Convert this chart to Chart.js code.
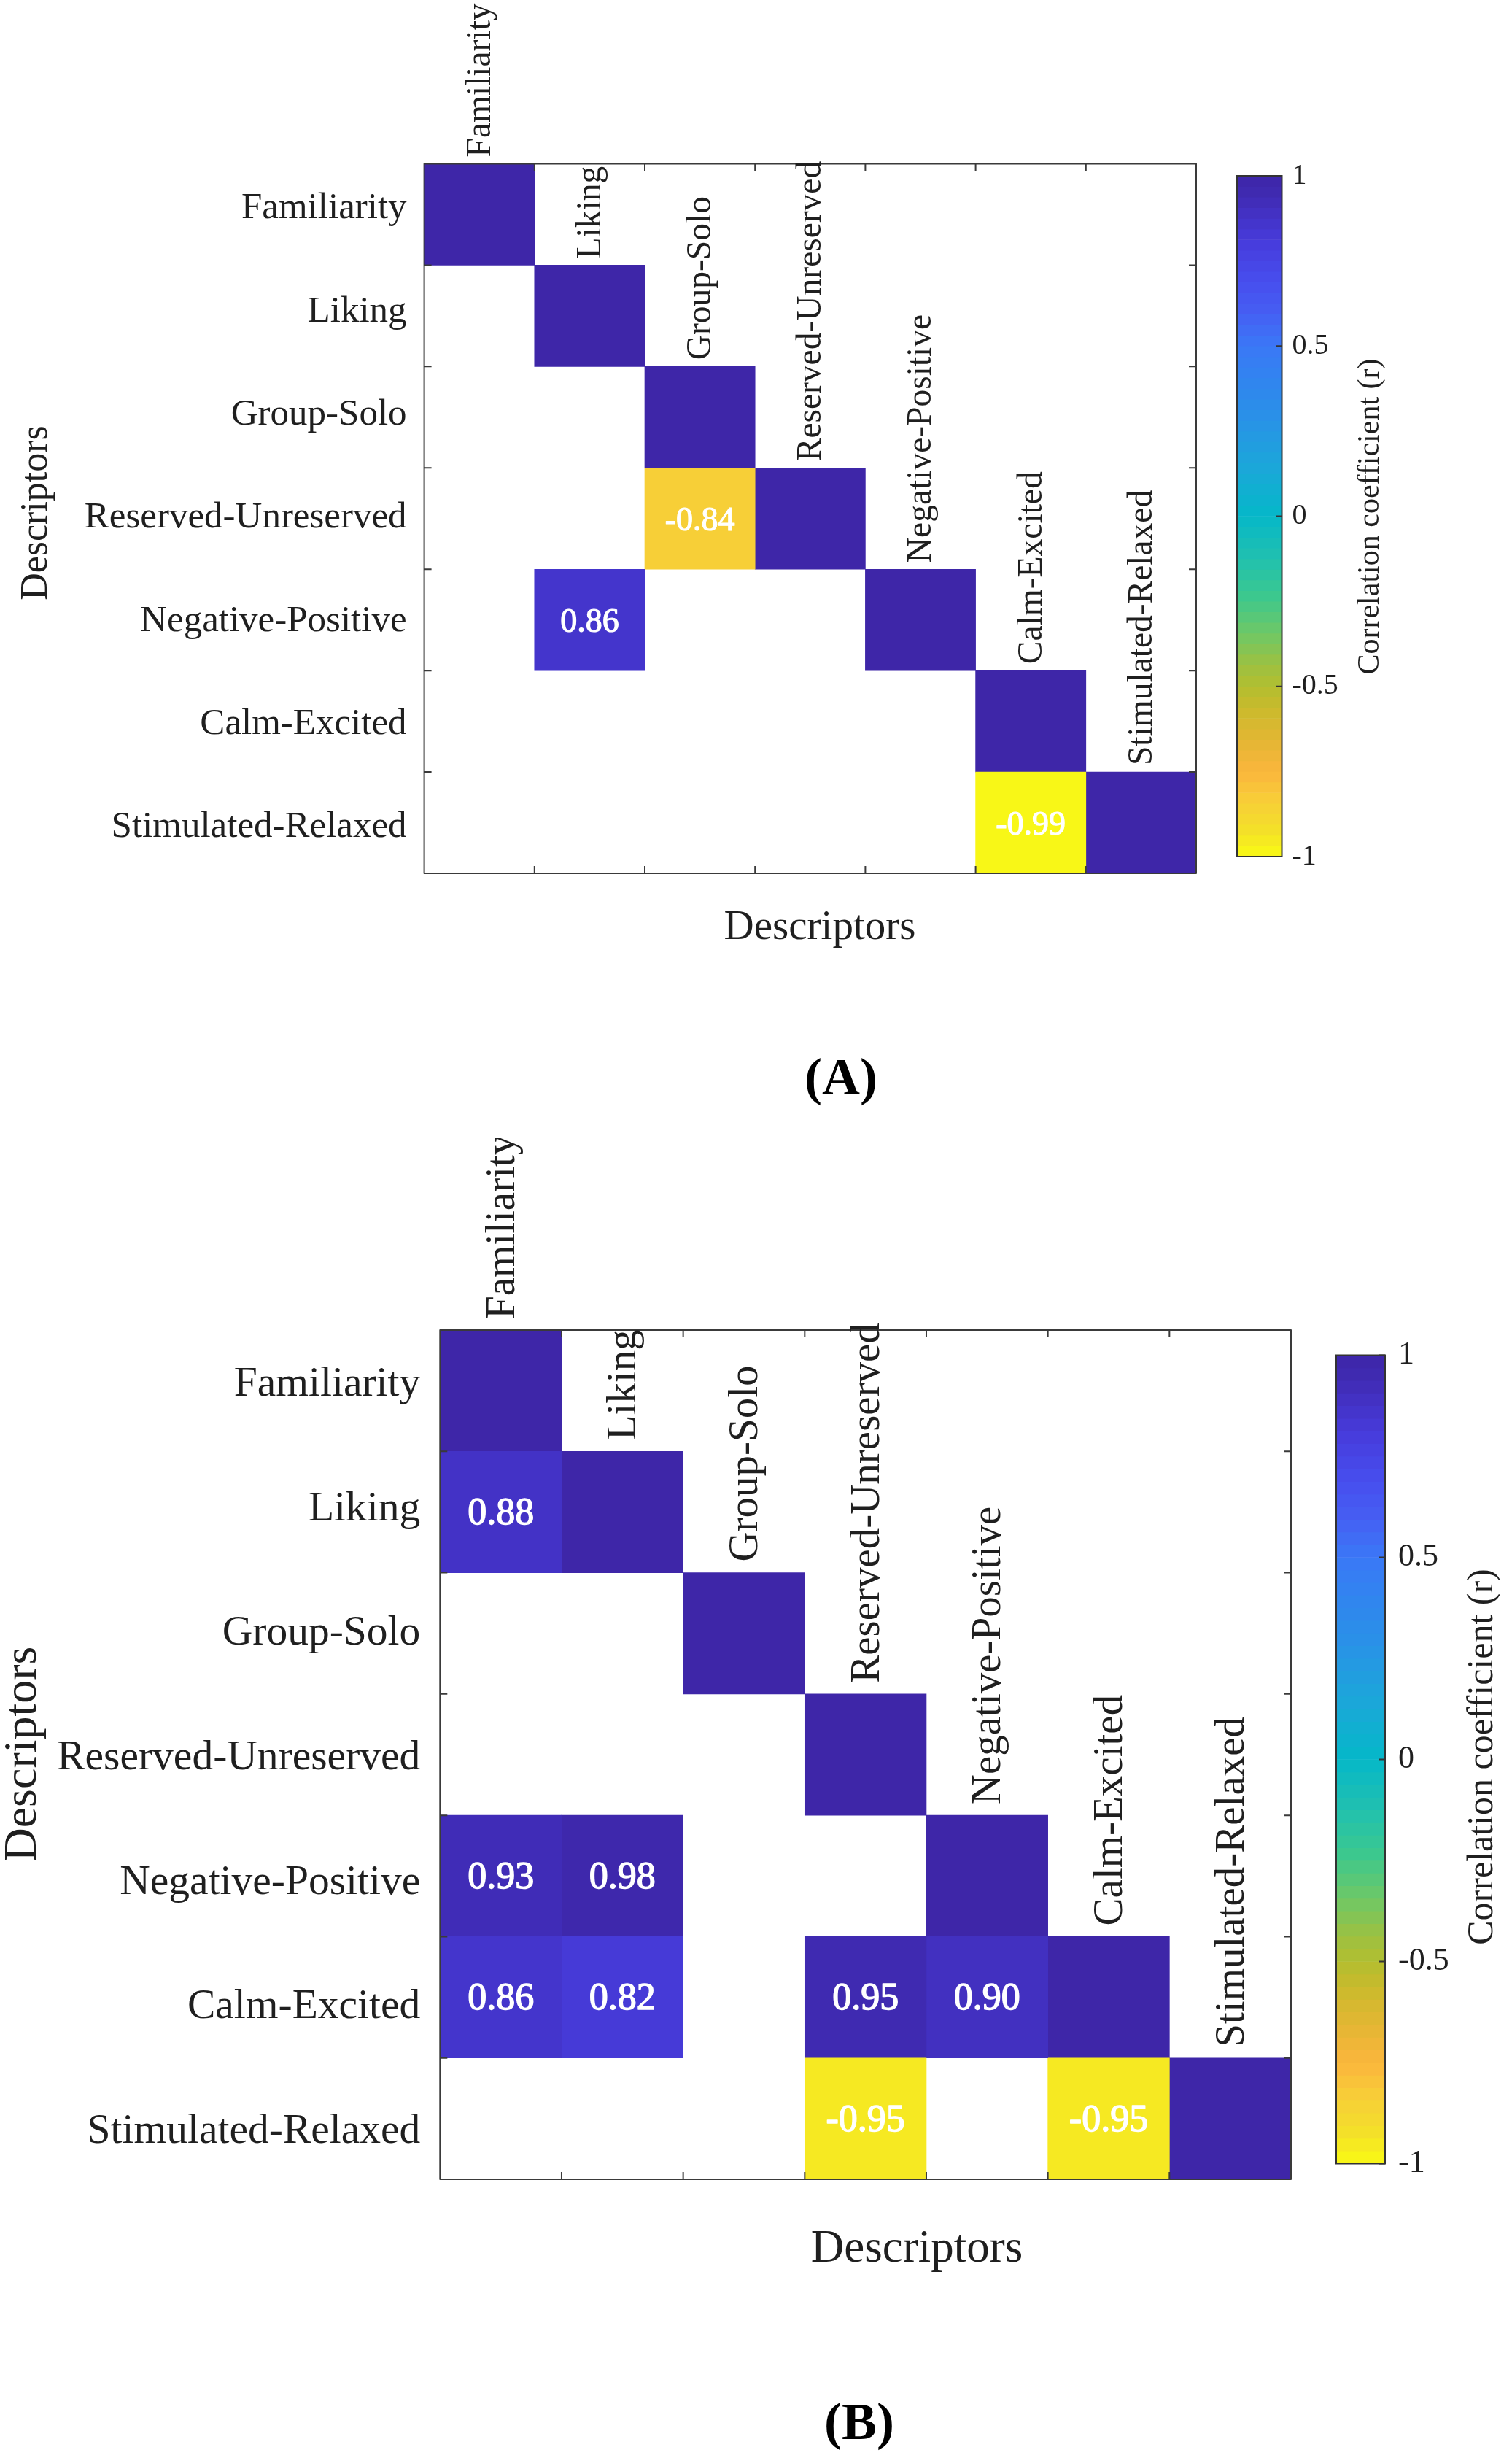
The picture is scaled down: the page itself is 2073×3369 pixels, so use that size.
<!DOCTYPE html>
<html>
<head>
<meta charset="utf-8">
<script src="https://cdn.jsdelivr.net/npm/chart.js@4.4.1/dist/chart.umd.min.js"></script>
<style>
html,body{margin:0;padding:0;background:#fff;}
#page{position:relative;width:2073px;height:3369px;background:#fff;overflow:hidden;}
canvas{position:absolute;display:block;}
</style>
</head>
<body>
<div id="page">
<canvas id="heatA" width="1680" height="1560" style="left:0px;top:0px;width:1680px;height:1560px"></canvas>
<canvas id="barA" width="393" height="1560" style="left:1680px;top:0px;width:393px;height:1560px"></canvas>
<canvas id="heatB" width="1800" height="1809" style="left:0px;top:1560px;width:1800px;height:1809px"></canvas>
<canvas id="barB" width="273" height="1809" style="left:1800px;top:1560px;width:273px;height:1809px"></canvas>
</div>
<script>
// ---------------- DATA ----------------
const descriptors = ['Familiarity','Liking','Group-Solo','Reserved-Unreserved','Negative-Positive','Calm-Excited','Stimulated-Relaxed'];

// rows (top to bottom) x columns (left to right); null = blank cell
const matrixA = [
  [1,    null, null,  null, null, null,  null],
  [null, 1,    null,  null, null, null,  null],
  [null, null, 1,     null, null, null,  null],
  [null, null, -0.84, 1,    null, null,  null],
  [null, 0.86, null,  null, 1,    null,  null],
  [null, null, null,  null, null, 1,     null],
  [null, null, null,  null, null, -0.99, 1]
];
const matrixB = [
  [1,    null, null, null,  null, null,  null],
  [0.88, 1,    null, null,  null, null,  null],
  [null, null, 1,    null,  null, null,  null],
  [null, null, null, 1,     null, null,  null],
  [0.93, 0.98, null, null,  1,    null,  null],
  [0.86, 0.82, null, 0.95,  0.90, 1,     null],
  [null, null, null, -0.95, null, -0.95, 1]
];
const colorbarTicks = [-1, -0.5, 0, 0.5, 1];
const colorbarRange = [-1, 1];
const axisTitle = 'Descriptors';
const colorbarTitle = 'Correlation coefficient (r)';
const panelCaptions = ['(A)', '(B)'];

// ---------------- STYLE ----------------
const SERIF = '"Liberation Serif", "DejaVu Serif", serif';
const TEXT = '#1f1f1f';
const AXIS = '#3a3a3a';
Chart.defaults.font.family = SERIF;

// parula-like colormap (value -> colour): 1 = dark blue, -1 = yellow
const cmapStops = [
  [1.00, '#3e26a8'], [0.95, '#3f2ab1'], [0.90, '#4230c0'], [0.85, '#4536cf'],
  [0.80, '#473ddc'], [0.70, '#474ced'], [0.60, '#465ef3'], [0.50, '#3a78f6'],
  [0.40, '#3185ef'], [0.30, '#2a90e8'], [0.15, '#1ca6da'], [0.00, '#05b8c8'],
  [-0.12, '#20c0b0'], [-0.23, '#3ac890'], [-0.34, '#6cc868'], [-0.44, '#9ec140'],
  [-0.50, '#b2be30'], [-0.57, '#ccba2c'], [-0.66, '#e4b634'], [-0.75, '#fbb63d'],
  [-0.84, '#f7cf37'], [-0.92, '#f4df2a'], [-1.00, '#f9fa14']
];
function hexToRgb(h){return [parseInt(h.substr(1,2),16),parseInt(h.substr(3,2),16),parseInt(h.substr(5,2),16)];}
function cmap(v){
  if (v >= cmapStops[0][0]) return cmapStops[0][1];
  for (let k = 0; k < cmapStops.length - 1; k++) {
    const [v1,c1] = cmapStops[k], [v2,c2] = cmapStops[k+1];
    if (v <= v1 && v >= v2) {
      const t = (v1 - v) / (v1 - v2);
      const a = hexToRgb(c1), b = hexToRgb(c2);
      const r = a.map((x,i)=>Math.round(x + (b[i]-x)*t));
      return `rgb(${r[0]},${r[1]},${r[2]})`;
    }
  }
  return cmapStops[cmapStops.length-1][1];
}

// ---------------- HEATMAP ----------------
function heatmap(p, matrix, caption) {
  const datasets = descriptors.map((_, j) => ({
    data: matrix.map((row, i) => row[j] == null ? null : {y: descriptors[i], x: [j, j + 1], v: row[j]}).filter(Boolean),
    backgroundColor: ctx => (ctx.raw ? cmap(ctx.raw.v) : 'rgba(0,0,0,0)'),
    borderWidth: 0,
    grouped: false,
    categoryPercentage: 1,
    barPercentage: 1
  }));
  const H = p.area.bottom - p.area.top;
  const labMin = -(p.labFirst - p.area.top) / p.labStep;
  const labMax = labMin + H / p.labStep;
  const deco = {
    id: 'deco' + caption,
    afterDraw(chart) {
      const ctx = chart.ctx, ca = chart.chartArea;
      const xs = chart.scales.x, ys = chart.scales.y;
      const rowH = ys.getPixelForValue(1) - ys.getPixelForValue(0);
      ctx.save();
      // cell values
      ctx.fillStyle = '#ffffff';
      ctx.strokeStyle = '#ffffff';
      ctx.lineWidth = p.valStroke;
      ctx.lineJoin = 'round';
      ctx.font = `${p.valFont}px ${SERIF}`;
      ctx.textAlign = 'center';
      ctx.textBaseline = 'middle';
      matrix.forEach((row, i) => row.forEach((v, j) => {
        if (v == null || i === j) return;
        const x = xs.getPixelForValue(j + 0.5), y = ys.getPixelForValue(i) + p.valDy;
        ctx.strokeText(v.toFixed(2), x, y);
        ctx.fillText(v.toFixed(2), x, y);
      }));
      // box
      ctx.strokeStyle = AXIS;
      ctx.lineWidth = 2;
      ctx.strokeRect(ca.left, ca.top, ca.right - ca.left, ca.bottom - ca.top);
      // inward ticks at cell boundaries
      ctx.beginPath();
      for (let k = 1; k < descriptors.length; k++) {
        const x = xs.getPixelForValue(k);
        ctx.moveTo(x, ca.top); ctx.lineTo(x, ca.top + p.tick);
        ctx.moveTo(x, ca.bottom); ctx.lineTo(x, ca.bottom - p.tick);
        const y = (ys.getPixelForValue(k - 1) + ys.getPixelForValue(k)) / 2;
        ctx.moveTo(ca.left, y); ctx.lineTo(ca.left + p.tick, y);
        ctx.moveTo(ca.right, y); ctx.lineTo(ca.right - p.tick, y);
      }
      ctx.stroke();
      // column labels placed above the diagonal cells
      ctx.fillStyle = TEXT;
      ctx.font = `${p.colFont}px ${SERIF}`;
      ctx.textAlign = 'left';
      ctx.textBaseline = 'middle';
      descriptors.forEach((lab, j) => {
        const x = xs.getPixelForValue(j + 0.5) + p.colDx;
        const y = ys.getPixelForValue(j) - rowH / 2 - p.colGap;
        ctx.save();
        ctx.translate(x, y);
        ctx.rotate(-Math.PI / 2);
        ctx.fillText(lab, 0, 0);
        ctx.restore();
      });
      // axis titles
      ctx.textAlign = 'center';
      ctx.textBaseline = 'middle';
      ctx.font = `${p.xTitleFont}px ${SERIF}`;
      ctx.fillText(axisTitle, p.xTitle[0], p.xTitle[1]);
      ctx.save();
      ctx.font = `${p.yTitleFont}px ${SERIF}`;
      ctx.translate(p.yTitle[0], p.yTitle[1]);
      ctx.rotate(-Math.PI / 2);
      ctx.fillText(axisTitle, 0, 0);
      ctx.restore();
      // caption
      ctx.font = `bold ${p.capFont}px ${SERIF}`;
      ctx.fillStyle = '#000';
      ctx.fillText(caption, p.cap[0], p.cap[1]);
      ctx.restore();
    }
  };
  return new Chart(document.getElementById(p.canvas), {
    type: 'bar',
    data: { labels: descriptors, datasets },
    options: {
      responsive: false, animation: false, devicePixelRatio: 1,
      indexAxis: 'y',
      layout: { padding: { left: 0, top: p.area.top, right: p.w - p.area.right, bottom: p.h - p.area.bottom } },
      plugins: { legend: { display: false }, tooltip: { enabled: false } },
      scales: {
        x: { type: 'linear', min: 0, max: descriptors.length, display: false },
        y: { type: 'category', labels: descriptors, offset: true, display: false },
        rows: {
          type: 'linear', position: 'left', reverse: true, min: labMin, max: labMax,
          offset: false, bounds: 'data',
          grid: { display: false, drawTicks: false, offset: false }, border: { display: false },
          afterBuildTicks: s => { s.ticks = descriptors.map((_, i) => ({ value: i })); },
          ticks: { autoSkip: false, color: TEXT, font: { size: p.rowFont, family: SERIF }, padding: p.rowPad,
                   callback: (v, idx) => descriptors[idx] },
          afterFit: s => { s.width = p.area.left; }
        }
      }
    },
    plugins: [deco]
  });
}

// ---------------- COLORBAR ----------------
function colorbar(p) {
  const n = 64, span = colorbarRange[1] - colorbarRange[0];
  const bands = Array.from({length: n}, (_, k) => {
    const lo = colorbarRange[0] + span * k / n, hi = lo + span / n;
    return { lo, hi, c: cmap((lo + hi) / 2) };
  });
  const deco = {
    id: 'cbdeco' + p.canvas,
    afterDraw(chart) {
      const ctx = chart.ctx, ca = chart.chartArea, ys = chart.scales.y;
      ctx.save();
      ctx.strokeStyle = '#333';
      ctx.lineWidth = 2;
      ctx.strokeRect(ca.left, ca.top, ca.right - ca.left, ca.bottom - ca.top);
      ctx.beginPath();
      colorbarTicks.forEach(v => {
        const y = ys.getPixelForValue(v);
        ctx.moveTo(ca.right, y); ctx.lineTo(ca.right - p.tick, y);
      });
      ctx.stroke();
      ctx.fillStyle = TEXT;
      ctx.font = `${p.titleFont}px ${SERIF}`;
      ctx.textAlign = 'center';
      ctx.textBaseline = 'middle';
      ctx.translate(p.title[0], p.title[1]);
      ctx.rotate(-Math.PI / 2);
      ctx.fillText(colorbarTitle, 0, 0);
      ctx.restore();
    }
  };
  return new Chart(document.getElementById(p.canvas), {
    type: 'bar',
    data: {
      labels: ['r'],
      datasets: [{
        data: bands.map(b => ({ x: 'r', y: [b.lo, b.hi] })),
        backgroundColor: bands.map(b => b.c),
        borderWidth: 0, categoryPercentage: 1, barPercentage: 1
      }]
    },
    options: {
      responsive: false, animation: false, devicePixelRatio: 1,
      layout: { padding: { left: p.area.left, top: p.area.top, right: 0, bottom: p.h - p.area.bottom } },
      plugins: { legend: { display: false }, tooltip: { enabled: false } },
      scales: {
        x: { type: 'category', display: false },
        y: {
          type: 'linear', position: 'right', min: colorbarRange[0], max: colorbarRange[1],
          grid: { display: false, drawTicks: false }, border: { display: false },
          afterBuildTicks: s => { s.ticks = colorbarTicks.map(v => ({ value: v })); },
          ticks: { color: TEXT, font: { size: p.tickFont, family: SERIF }, padding: p.tickPad, callback: v => String(v) },
          afterFit: s => { s.width = p.w - p.area.right; }
        }
      }
    },
    plugins: [deco]
  });
}

heatmap({
  canvas: 'heatA', w: 1680, h: 1560,
  area: { left: 581.6, top: 224.5, right: 1640, bottom: 1197 },
  rowFont: 51, rowPad: 24, labFirst: 286, labStep: 141.3,
  colFont: 47.5, colGap: 9, colDx: 2,
  valFont: 46, valDy: 4, valStroke: 1.2, tick: 10,
  xTitleFont: 57, yTitleFont: 52, xTitle: [1124, 1272], yTitle: [50, 703],
  capFont: 72, cap: [1153, 1481]
}, matrixA, panelCaptions[0]);

colorbar({
  canvas: 'barA', w: 393, h: 1560,
  area: { left: 16, right: 77.5, top: 241, bottom: 1174 },
  tickFont: 40, tickPad: 14, tick: 8,
  titleFont: 42, title: [199, 708]
});

heatmap({
  canvas: 'heatB', w: 1800, h: 1809,
  area: { left: 603.3, top: 263, right: 1770, bottom: 1427 },
  rowFont: 57.5, rowPad: 27, labFirst: 338, labStep: 170.67,
  colFont: 57, colGap: 15, colDx: 3,
  valFont: 52, valDy: 3, valStroke: 1.4, tick: 10,
  xTitleFont: 63, yTitleFont: 64, xTitle: [1257, 1523], yTitle: [32, 844],
  capFont: 72, cap: [1178, 1764]
}, matrixB, panelCaptions[1]);

colorbar({
  canvas: 'barB', w: 273, h: 1809,
  area: { left: 32, right: 99, top: 297.5, bottom: 1405.5 },
  tickFont: 44, tickPad: 18, tick: 9,
  titleFont: 50, title: [233, 848]
});
</script>
</body>
</html>
